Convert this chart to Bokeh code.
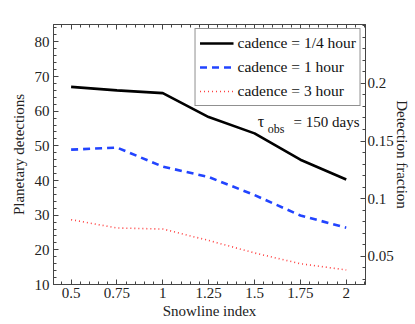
from bokeh.plotting import figure
from bokeh.models import (Range1d, LinearAxis, FixedTicker, Legend, LegendItem, Label)
from bokeh.embed import file_html
from bokeh.resources import INLINE

snowline = [0.5, 0.75, 1.0, 1.25, 1.5, 1.75, 2.0]
cad_quarter = [67.0, 66.0, 65.2, 58.3, 53.6, 46.0, 40.3]
cad_one = [48.9, 49.5, 44.0, 41.0, 35.8, 29.9, 26.4]
cad_three = [28.7, 26.3, 26.0, 22.7, 19.1, 16.0, 14.2]

x_ticks = [0.5, 0.75, 1.0, 1.25, 1.5, 1.75, 2.0]
x_tick_labels = ["0.5", "0.75", "1", "1.25", "1.5", "1.75", "2"]
y_ticks = [10, 20, 30, 40, 50, 60, 70, 80]
frac_ticks = [0.05, 0.1, 0.15, 0.2]
frac_tick_labels = ["0.05", "0.1", "0.15", "0.2"]

FONT = "Liberation Serif"
AX = "#444444"

p = figure(width=415, height=324, output_backend="svg", toolbar_location=None,
           x_range=Range1d(0.404, 2.105), y_range=Range1d(10, 85),
           min_border_left=53, min_border_right=50, min_border_top=24, min_border_bottom=40)
p.extra_y_ranges = {"frac": Range1d(0.0257, 0.251)}
p.outline_line_color = AX
p.grid.visible = False
p.background_fill_color = "white"
p.border_fill_color = "white"

r1 = p.line(snowline, cad_quarter, line_color="black", line_width=2.6)
r2 = p.line(snowline, cad_one, line_color="#2244ff", line_width=2.6, line_dash="7 5")
r3 = p.line(snowline, cad_three, line_color="#ff4040", line_width=1.6, line_dash="1 3")

def style(ax):
    ax.axis_line_color = AX
    ax.major_tick_line_color = AX
    ax.minor_tick_line_color = AX
    ax.major_tick_in = 5
    ax.major_tick_out = 0
    ax.minor_tick_in = 3
    ax.minor_tick_out = 0
    ax.major_label_text_font = FONT
    ax.major_label_text_font_size = "15px"
    ax.major_label_text_color = "#222222"
    ax.axis_label_text_font = FONT
    ax.axis_label_text_font_size = "15px"
    ax.axis_label_text_font_style = "normal"
    ax.axis_label_text_color = "#222222"

xt = FixedTicker(ticks=x_ticks, minor_ticks=[0.4 + 0.05 * i for i in range(35)])
yt = FixedTicker(ticks=y_ticks, minor_ticks=list(range(10, 86, 2)))
ft = FixedTicker(ticks=frac_ticks, minor_ticks=[0.03 + 0.01 * i for i in range(23)])

xa = p.xaxis[0]
xa.ticker = xt
xa.major_label_overrides = {t: s for t, s in zip(x_ticks, x_tick_labels)}
xa.axis_label = "Snowline index"
style(xa)
xa.major_label_standoff = 3
xa.axis_label_standoff = 2

ya = p.yaxis[0]
ya.ticker = yt
ya.axis_label = "Planetary detections"
style(ya)
ya.major_label_standoff = 4
ya.axis_label_standoff = 5

ra = LinearAxis(y_range_name="frac", ticker=ft, axis_label="Detection fraction")
ra.major_label_overrides = {t: s for t, s in zip(frac_ticks, frac_tick_labels)}
style(ra)
ra.major_label_standoff = 2
ra.axis_label_standoff = -3
p.add_layout(ra, "right")

ta = LinearAxis(ticker=xt)
style(ta)
ta.major_label_overrides = {t: "" for t in x_ticks}
ta.major_label_standoff = 0
ta.axis_label = None
p.add_layout(ta, "above")

legend = Legend(items=[
    LegendItem(label="cadence = 1/4 hour", renderers=[r1]),
    LegendItem(label="cadence = 1 hour", renderers=[r2]),
    LegendItem(label="cadence = 3 hour", renderers=[r3]),
], location="top_right")
legend.label_text_font = FONT
legend.label_text_font_size = "15.5px"
legend.label_text_color = "#111111"
legend.border_line_color = "#222222"
legend.border_line_width = 1.2
legend.glyph_width = 34
legend.glyph_height = 20
legend.label_height = 20
legend.spacing = 4
legend.padding = 4
legend.margin = 4
legend.label_standoff = 4
legend.background_fill_alpha = 1.0
p.add_layout(legend)

lab_kw = dict(text_font=FONT, text_color="#111111", text_baseline="alphabetic")
p.add_layout(Label(x=1.517, y=57.0, text="τ", text_font_size="16px", **lab_kw))
p.add_layout(Label(x=1.572, y=55.0, text="obs", text_font_size="12px", **lab_kw))
p.add_layout(Label(x=1.713, y=57.0, text="= 150 days", text_font_size="15px", **lab_kw))

open("out.html", "w").write(file_html(p, INLINE))
